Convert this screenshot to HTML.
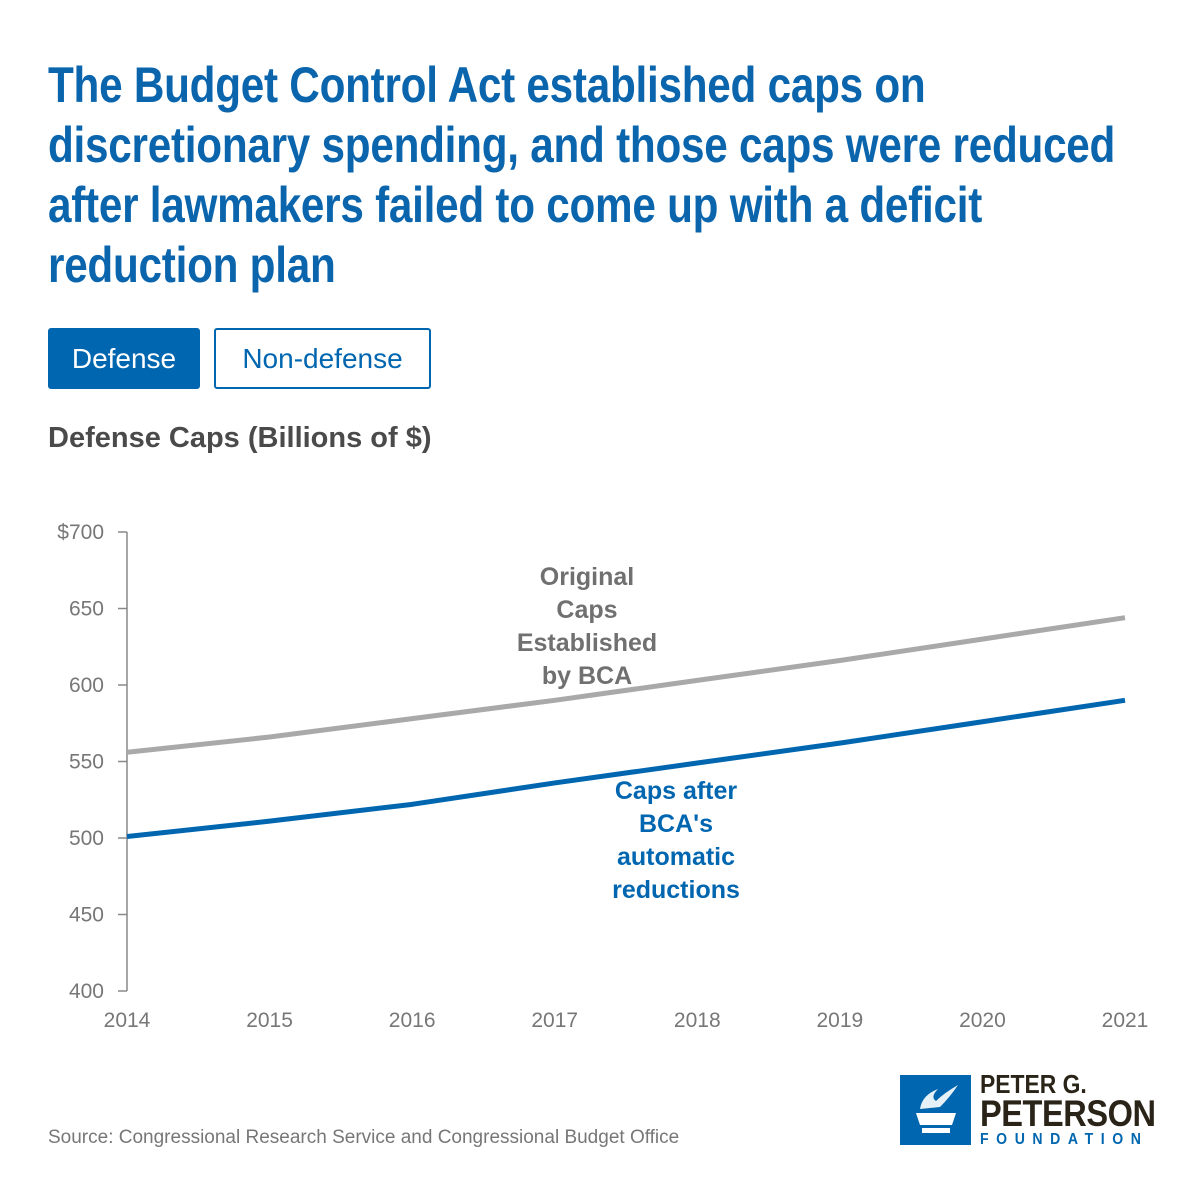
<!DOCTYPE html>
<html><head><meta charset="utf-8"><style>
body{margin:0;width:1200px;height:1200px;background:#fff;position:relative;overflow:hidden;font-family:"Liberation Sans",sans-serif}
#title{position:absolute;left:48px;top:55px;margin:0;white-space:nowrap;font-family:"Liberation Sans Narrow","Liberation Sans",sans-serif;font-weight:bold;font-size:50px;line-height:60px;color:#0a65ad;letter-spacing:-0.3px;transform:scaleX(0.845);transform-origin:0 0}
.btn{position:absolute;top:328px;height:61px;box-sizing:border-box;border:2px solid #0066b0;border-radius:3px;font-size:28px;line-height:57px;text-align:center}
#subtitle{position:absolute;left:48px;top:422px;font-size:29px;font-weight:bold;color:#4a4a4a}
#source{position:absolute;left:48px;top:1127px;font-size:19px;color:#777}
svg{position:absolute;left:0;top:0}
</style></head><body>
<h1 id="title">The Budget Control Act established caps on<br>discretionary spending, and those caps were reduced<br>after lawmakers failed to come up with a deficit<br>reduction plan</h1>
<div class="btn" style="left:48px;width:152px;background:#0066b0;color:#fff">Defense</div>
<div class="btn" style="left:214px;width:217px;background:#fff;color:#0066b0">Non-defense</div>
<div id="subtitle">Defense Caps (Billions of $)</div>
<svg id="chart" width="1200" height="1200"></svg>
<div id="source">Source: Congressional Research Service and Congressional Budget Office</div>
<div style="position:absolute;left:900px;top:1075px;width:71px;height:70px;background:#0066b0">
<svg width="71" height="70" viewBox="0 0 71 70"><path d="M20 34 Q22 20 38 14 Q30 22 36 26 Q44 18 58 10 Q50 22 40 32 Z" fill="#fff" opacity=".9"/><path d="M16 38 H56 L52 50 H20 Z M22 53 H50 V58 H22 Z" fill="#fff"/></svg></div>
<div style="position:absolute;left:980px;top:1071px;font-family:'Liberation Sans Narrow','Liberation Sans',sans-serif;font-weight:bold;color:#2a2418;transform:scaleX(0.88);transform-origin:0 0;white-space:nowrap">
<div style="font-size:26px;line-height:26px">PETER G.</div>
<div style="font-size:37px;line-height:34px;letter-spacing:-0.5px">PETERSON</div>
<div style="font-size:16px;line-height:16px;color:#0066b0;letter-spacing:8.6px;margin-top:1px">FOUNDATION</div></div>
<script>
const years=[2014,2015,2016,2017,2018,2019,2020,2021];
const originalCaps=[556,566,578,590,603,616,630,644];
const reducedCaps=[501,511,522,536,549,562,576,590];
const yTicks=[400,450,500,550,600,650,700];
const yTickLabels=["400","450","500","550","600","650","$700"];
const svg=document.getElementById('chart');
const NS='http://www.w3.org/2000/svg';
const x=y=>127+(y-2014)*(1125-127)/7;
const yv=v=>991-(v-400)*(991-532)/300;
function mk(t,a){const e=document.createElementNS(NS,t);for(const k in a)e.setAttribute(k,a[k]);svg.appendChild(e);return e;}
let ax=mk('line',{x1:127,y1:532,x2:127,y2:991,stroke:'#888','stroke-width':1.5});


yTicks.forEach((t,i)=>{
 const tk=mk('line',{x1:118,x2:127,y1:yv(t),y2:yv(t),stroke:'#888','stroke-width':1.5});
 
 
 const l=mk('text',{x:104,y:yv(t)+7,'text-anchor':'end','font-size':21,fill:'#777','font-family':'Liberation Sans, sans-serif'});
 l.textContent=yTickLabels[i];
 
 
});
years.forEach(yr=>{
 const l=mk('text',{x:x(yr),y:1027,'text-anchor':'middle','font-size':21,fill:'#777','font-family':'Liberation Sans, sans-serif'});
 l.textContent=yr;
 
 
});
function line(vals,col,name){
 const d=vals.map((v,i)=>(i?'L':'M')+x(years[i])+' '+yv(v)).join(' ');
 const p=mk('path',{d:d,fill:'none',stroke:col,'stroke-width':5,'stroke-linejoin':'round'});
 
 
}
line(originalCaps,'#a9a9a9','original-caps-line');
line(reducedCaps,'#0066b0','reduced-caps-line');
function lbl(lines,cx,y0,col,name){
 const t=mk('text',{'text-anchor':'middle','font-size':25,'font-weight':'bold',fill:col,'font-family':'Liberation Sans, sans-serif'});
 
 
 lines.forEach((s,i)=>{const ts=document.createElementNS(NS,'tspan');ts.setAttribute('x',cx);ts.setAttribute('y',y0+i*33);ts.textContent=s;t.appendChild(ts);});
}
lbl(['Original','Caps','Established','by BCA'],587,585,'#707070','original-caps-label');
lbl(['Caps after',"BCA's",'automatic','reductions'],676,799,'#0066b0','reduced-caps-label');
</script>
</body></html>
